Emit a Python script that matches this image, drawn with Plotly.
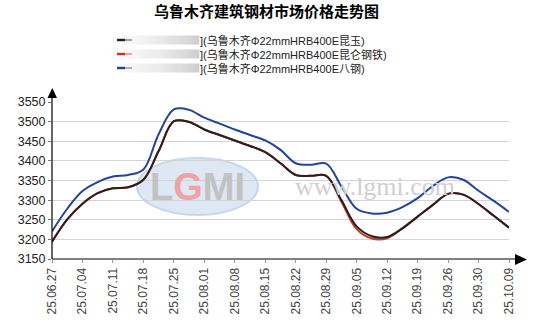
import plotly.graph_objects as go

tick_labels = ["25.06.27", "25.07.04", "25.07.11", "25.07.18", "25.07.25", "25.08.01",
               "25.08.08", "25.08.15", "25.08.22", "25.08.29", "25.09.05", "25.09.12",
               "25.09.19", "25.09.26", "25.09.30", "25.10.09"]

# half-step positions between the category ticks
x_pos = [i * 0.5 for i in range(31)]

bagang = [3220, 3278, 3323, 3346, 3360, 3364, 3378, 3468, 3531, 3530, 3510, 3495, 3480, 3466,
          3452, 3428, 3394, 3390, 3393, 3335, 3278, 3266, 3268, 3282, 3305, 3336, 3358, 3352,
          3324, 3298, 3270]
kunyu = [3194, 3251, 3291, 3318, 3330, 3333, 3352, 3425, 3501, 3499, 3480, 3466, 3452, 3438,
         3422, 3394, 3364, 3362, 3362, 3300, 3233, 3208, 3206, 3228, 3258, 3288, 3316, 3314,
         3290, 3260, 3230]
kunlun = [3194, 3251, 3291, 3318, 3330, 3333, 3352, 3425, 3501, 3499, 3480, 3466, 3452, 3438,
          3422, 3394, 3364, 3362, 3362, 3296, 3226, 3202, 3203, 3228, 3258, 3288, 3316, 3314,
          3290, 3260, 3230]

series_names = ["](乌鲁木齐Φ22mmHRB400E昆玉)", "](乌鲁木齐Φ22mmHRB400E昆仑钢铁)", "](乌鲁木齐Φ22mmHRB400E八钢)"]
colors = ["#2a2020", "#c0392b", "#23449a"]

L, R, T, B = 52, 24, 102, 70
W, H = 533, 329
PW, PH = W - L - R, H - T - B


def px(x):
    return (x - L) / PW


def py(y):
    return (H - B - y) / PH


fig = go.Figure()
for name, vals, col in [(series_names[1], kunlun, colors[1]),
                        (series_names[0], kunyu, colors[0]),
                        (series_names[2], bagang, colors[2])]:
    fig.add_trace(go.Scatter(x=x_pos, y=vals, mode="lines", name=name,
                             line=dict(color=col, width=2, shape="spline", smoothing=1.0),
                             showlegend=False, hoverinfo="skip"))

shapes = []
annotations = []

# watermark
shapes.append(dict(type="circle", xref="paper", yref="paper", x0=px(137), x1=px(258),
                   y0=py(215), y1=py(158), fillcolor="#dde8f4", line=dict(color="#c8d7ea", width=2),
                   layer="below"))
annotations.append(dict(xref="paper", yref="paper", x=px(197), y=py(187), showarrow=False,
                        xanchor="center", yanchor="middle",
                        text="<b>L<span style='color:#f0a3a3'>G</span>MI</b>",
                        font=dict(family="Liberation Sans", size=38, color="#c2c2c2")))
annotations.append(dict(xref="paper", yref="paper", x=px(375), y=py(186), showarrow=False,
                        xanchor="center", yanchor="middle",
                        text="www.lgmi.com",
                        font=dict(family="Liberation Serif", size=26, color="#d0d0d0")))

# legend (manual)
rows = [40, 54, 68]
for r, name, col in zip(rows, series_names, colors):
    n = 36
    x_start, x_end = 124, 199
    for k in range(n):
        x0 = x_start + k * (x_end - x_start) / n
        x1 = x_start + (k + 1) * (x_end - x_start) / n
        g = 246 - int(40 * (k / (n - 1)) ** 1.5)
        shapes.append(dict(type="rect", xref="paper", yref="paper", x0=px(x0), x1=px(x1 + 0.3),
                           y0=py(r + 4.5), y1=py(r - 4.5), line=dict(width=0),
                           fillcolor=f"rgb({g},{g},{g})"))
    shapes.append(dict(type="line", xref="paper", yref="paper", x0=px(117), x1=px(125),
                       y0=py(r), y1=py(r), line=dict(color=col, width=2.5)))
    shapes.append(dict(type="line", xref="paper", yref="paper", x0=px(125), x1=px(132),
                       y0=py(r), y1=py(r), line=dict(color=col, width=2), opacity=0.4))
    annotations.append(dict(xref="paper", yref="paper", x=px(199), y=py(r), xanchor="left",
                            yanchor="middle", showarrow=False, text=name,
                            borderpad=0,
                            font=dict(family="Liberation Sans, Noto Sans CJK SC", size=11,
                                      color="#222")))

# axis lines with arrows
shapes.append(dict(type="line", xref="paper", yref="paper", x0=0, x1=0, y0=0, y1=py(97),
                   line=dict(color="black", width=1.2)))
shapes.append(dict(type="path", xref="paper", yref="paper",
                   path=f"M {px(47.5)} {py(98)} L {px(57)} {py(98)} L {px(52.3)} {py(88)} Z",
                   fillcolor="black", line=dict(width=0)))
shapes.append(dict(type="line", xref="paper", yref="paper", x0=0, x1=px(516), y0=0, y1=0,
                   line=dict(color="black", width=1.2)))
shapes.append(dict(type="path", xref="paper", yref="paper",
                   path=f"M {px(515)} {py(254)} L {px(515)} {py(265)} L {px(527)} {py(259.5)} Z",
                   fillcolor="black", line=dict(width=0)))

fig.update_layout(
    width=W, height=H,
    margin=dict(l=L, r=R, t=T, b=B),
    paper_bgcolor="white", plot_bgcolor="white",
    title=dict(text="<b>乌鲁木齐建筑钢材市场价格走势图</b>", x=0.5, xanchor="center",
               y=1 - 12 / H, yanchor="middle",
               font=dict(family="Noto Sans CJK SC", size=15, color="black")),
    xaxis=dict(range=[0, 15], tickmode="array", tickvals=list(range(16)), ticktext=tick_labels,
               tickangle=-90, showgrid=False, zeroline=False, showline=False,
               ticks="outside", ticklen=3, tickcolor="#999",
               tickfont=dict(family="Liberation Sans", size=12, color="#444")),
    yaxis=dict(range=[3150, 3550], tickmode="array", tickvals=list(range(3150, 3551, 50)),
               showgrid=True, gridcolor="#d4d4d4", gridwidth=1, zeroline=False, showline=False,
               ticks="outside", ticklen=3, tickcolor="#777",
               tickfont=dict(family="Liberation Sans", size=12.5, color="#222")),
    shapes=shapes, annotations=annotations, showlegend=False,
)

fig.write_html("out.html")
